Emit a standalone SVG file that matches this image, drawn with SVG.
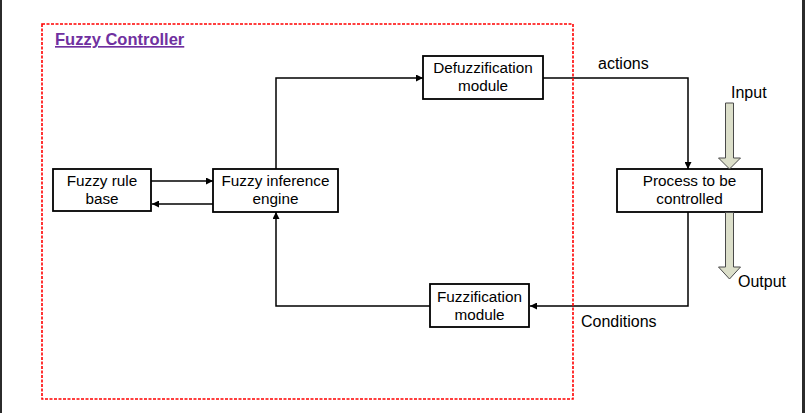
<svg xmlns="http://www.w3.org/2000/svg" width="805" height="413" viewBox="0 0 805 413">
<style>
.box{fill:#fff;stroke:#000;stroke-width:1.8}
.t{font-family:"Liberation Sans",Arial,sans-serif;font-size:15.3px;fill:#000;text-anchor:middle}
.lbl{font-family:"Liberation Sans",Arial,sans-serif;font-size:16px;fill:#000}
.c{fill:none;stroke:#000;stroke-width:1.5}
.big{fill:#DCDFCA;stroke:#4a4a4a;stroke-width:1}
</style>
<defs>
<marker id="ah" viewBox="0 0 10 10" refX="10" refY="5" markerWidth="7" markerHeight="7" markerUnits="userSpaceOnUse" orient="auto">
<path d="M0,0 L10,5 L0,10 z" fill="#000"/>
</marker>
</defs>
<rect x="0" y="0" width="805" height="413" fill="#fff"/>
<rect x="0" y="0" width="2" height="413" fill="#2b2b2b"/>
<rect x="802" y="0" width="3" height="413" fill="#2b2b2b"/>

<g id="connectors">
<line class="c" x1="151" y1="181" x2="213" y2="181" marker-end="url(#ah)"/>
<line class="c" x1="213" y1="204" x2="152" y2="204" marker-end="url(#ah)"/>
<polyline class="c" points="276,169 276,78 423,78" marker-end="url(#ah)"/>
<polyline class="c" points="543,78 688,78 688,169" marker-end="url(#ah)"/>
<polyline class="c" points="688,212 688,306 530,306" marker-end="url(#ah)"/>
<polyline class="c" points="430,306 276,306 276,212" marker-end="url(#ah)"/>
</g>

<g id="rulebase">
<rect class="box" x="53" y="169" width="98" height="42"/>
<text class="t" x="102" y="186">Fuzzy rule</text>
<text class="t" x="102" y="204">base</text>
</g>
<g id="inference">
<rect class="box" x="213" y="169" width="125" height="43"/>
<text class="t" x="275.5" y="186">Fuzzy inference</text>
<text class="t" x="275.5" y="204">engine</text>
</g>
<g id="defuzz">
<rect class="box" x="423" y="56" width="120" height="43"/>
<text class="t" x="483" y="73">Defuzzification</text>
<text class="t" x="483" y="91">module</text>
</g>
<g id="fuzz">
<rect class="box" x="430" y="284" width="99" height="43"/>
<text class="t" x="479.5" y="302">Fuzzification</text>
<text class="t" x="479.5" y="320">module</text>
</g>
<g id="process">
<rect class="box" x="617" y="169" width="145" height="43"/>
<text class="t" x="689.5" y="186">Process to be</text>
<text class="t" x="689.5" y="204">controlled</text>
</g>
<g id="input">
<path class="big" d="M725.5,103 L733.5,103 L733.5,158 L740.5,158 L729.5,169 L718.5,158 L725.5,158 z"/>
<text class="lbl" x="731" y="98">Input</text>
</g>
<g id="output">
<path class="big" d="M725.5,212.5 L733.5,212.5 L733.5,267 L740.5,267 L729.5,279 L718.5,267 L725.5,267 z"/>
<text class="lbl" x="738" y="287">Output</text>
</g>
<text class="lbl" x="598" y="69">actions</text>
<text class="lbl" x="581" y="327">Conditions</text>

<g id="frame">
<rect x="42" y="24" width="531" height="375" fill="none" stroke="#f00" stroke-width="1.6" stroke-dasharray="3 1.5"/>
<text x="55" y="45" font-family="Liberation Sans,Arial,sans-serif" font-size="16.5" font-weight="bold" fill="#7030A0" text-decoration="underline">Fuzzy Controller</text>
</g>
</svg>
